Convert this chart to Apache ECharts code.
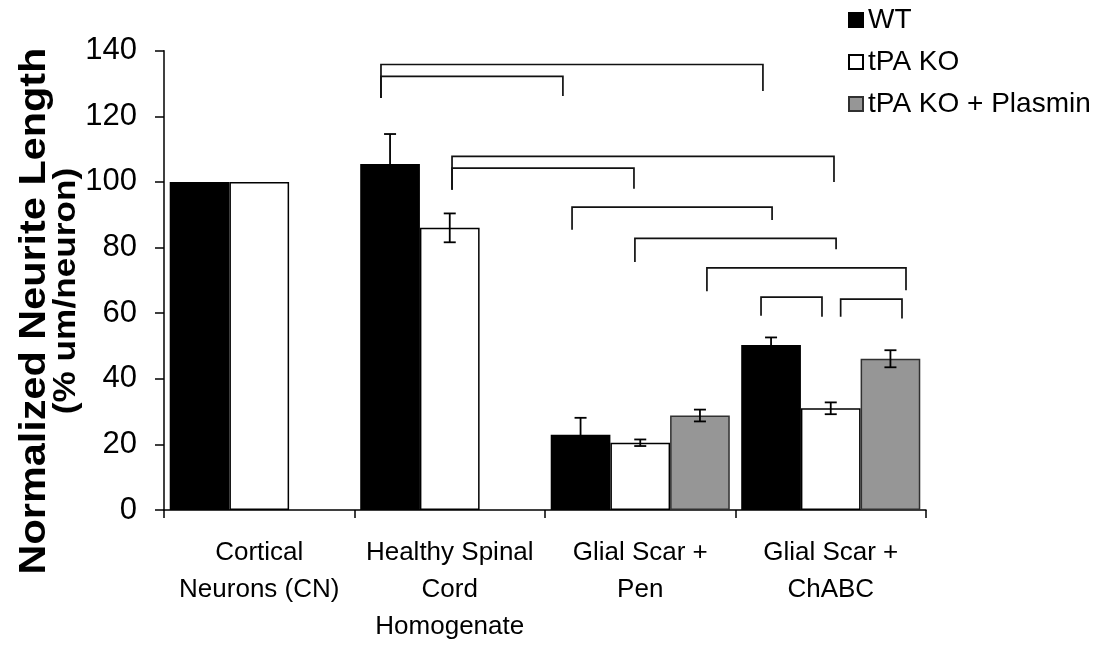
<!DOCTYPE html>
<html><head><meta charset="utf-8">
<script src="https://cdn.jsdelivr.net/npm/echarts/dist/echarts.min.js"></script>
<style>html,body{margin:0;padding:0;background:#fff}#c{width:1104px;height:645px}</style>
</head><body><div id="c"></div>
<script>
// ---- data ----
const categories = ['Cortical\nNeurons (CN)', 'Healthy Spinal\nCord\nHomogenate', 'Glial Scar +\nPen', 'Glial Scar +\nChABC'];
const seriesNames = ['WT', 'tPA KO', 'tPA KO + Plasmin'];
const wtValues = [100, 105.5, 22.9, 50.3];
const wtErrors = [null, 9.1, 5.2, 2.3];
const koValues = [100, 86.0, 20.5, 31.0];
const koErrors = [null, 4.4, 1.0, 1.8];
const plasminValues = [null, null, 28.8, 46.1];
const plasminErrors = [null, null, 1.8, 2.6];
const yMin = 0, yMax = 140, yStep = 20;
const yTitle1 = 'Normalized Neurite Length';
const yTitle2 = '(% um/neuron)';
// significance brackets: [xLeft, xRight, yTop, yLeftEnd, yRightEnd] (x in category units, y in data units)
const brackets = [
  [1.139, 3.144, 135.8, 125.6, 127.7],
  [1.139, 2.094, 132.2, 125.6, 126.2],
  [1.512, 3.517, 107.8, 97.6, 100.0],
  [1.512, 2.467, 104.2, 97.6, 97.9],
  [2.142, 3.192, 92.3, 85.4, 88.4],
  [2.472, 3.528, 82.8, 75.6, 79.5],
  [2.850, 3.895, 73.8, 66.7, 67.0],
  [3.134, 3.454, 64.9, 59.2, 58.9],
  [3.552, 3.874, 64.3, 58.9, 58.4]
];

// ---- chart ----
const FONT = '"Liberation Sans", Arial, sans-serif';
const GAP = 0.06;
const colors = ['#000000', '#ffffff', '#969696'];
const borders = ['#000000', '#000000', '#303030'];
const valuesList = [wtValues, koValues, plasminValues];
const errorsList = [wtErrors, koErrors, plasminErrors];

const chart = echarts.init(document.getElementById('c'));

const barSeries = seriesNames.map((name, i) => ({
  name, type: 'bar', xAxisIndex: 0, yAxisIndex: 0,
  data: valuesList[i],
  barGap: '0%', barCategoryGap: (GAP * 100) + '%',
  itemStyle: { color: colors[i], borderColor: borders[i], borderWidth: 1.5 },
  emphasis: { disabled: true },
  z: 2
}));

const errSeries = seriesNames.map((name, i) => ({
  type: 'custom', xAxisIndex: 0, yAxisIndex: 0, z: 5, silent: true,
  data: errorsList[i].map((e, c) => e == null ? null : [c, valuesList[i][c], e]).filter(d => d),
  renderItem(params, api) {
    const c = api.value(0), v = api.value(1), e = api.value(2);
    const band = api.size([1, 0])[0];
    const bw = band * (1 - GAP) / 3;
    const x = api.coord([c, v])[0] + (i - 1) * bw;
    const yt = api.coord([c, v + e])[1];
    const yb = api.coord([c, v - e])[1];
    const cap = 6;
    const st = { stroke: '#000', lineWidth: 1.8 };
    return { type: 'group', children: [
      { type: 'line', shape: { x1: x, y1: yt, x2: x, y2: yb }, style: st },
      { type: 'line', shape: { x1: x - cap, y1: yt, x2: x + cap, y2: yt }, style: st },
      { type: 'line', shape: { x1: x - cap, y1: yb, x2: x + cap, y2: yb }, style: st }
    ]};
  }
}));

const bracketSeries = {
  type: 'custom', xAxisIndex: 1, yAxisIndex: 0, z: 4, silent: true, clip: false,
  data: brackets,
  encode: { x: 0, y: 2 },
  renderItem(params, api) {
    const xl = api.value(0), xr = api.value(1), yt = api.value(2), yl = api.value(3), yr = api.value(4);
    const pts = [api.coord([xl, yl]), api.coord([xl, yt]), api.coord([xr, yt]), api.coord([xr, yr])];
    return { type: 'polyline', shape: { points: pts }, style: { stroke: '#111', lineWidth: 1.7, fill: null } };
  }
};

chart.setOption({
  animation: false,
  backgroundColor: '#fff',
  textStyle: { fontFamily: FONT },
  grid: { left: 164, right: 178, top: 50.7, bottom: 124, containLabel: false },
  legend: {
    orient: 'vertical', left: 843, top: 0,
    data: seriesNames, icon: 'rect', itemWidth: 14, itemHeight: 14, itemGap: 12,
    textStyle: { fontSize: 28, lineHeight: 30, color: '#000', fontFamily: FONT },
    selectedMode: false
  },
  xAxis: [{
    type: 'category', data: categories, gridIndex: 0,
    axisLine: { lineStyle: { color: '#000', width: 1.5 } },
    axisTick: { show: true, length: 8, lineStyle: { color: '#000', width: 1.5 } },
    axisLabel: { fontSize: 26, lineHeight: 37, color: '#000', margin: 24, interval: 0, fontFamily: FONT }
  }, {
    type: 'value', min: 0, max: 4, gridIndex: 0, show: false
  }],
  yAxis: [{
    type: 'value', min: yMin, max: yMax, interval: yStep,
    axisLine: { show: true, lineStyle: { color: '#000', width: 1.5 } },
    axisTick: { show: true, length: 9, lineStyle: { color: '#000', width: 1.5 } },
    axisLabel: { fontSize: 31, color: '#000', margin: 27, fontFamily: FONT },
    splitLine: { show: false }
  }],
  graphic: [
    { type: 'text', x: 35, y: 311, rotation: Math.PI / 2, scaleX: 1.15,
      style: { text: yTitle1, font: 'bold 36px ' + FONT, align: 'center', verticalAlign: 'middle', fill: '#000' } },
    { type: 'text', x: 66, y: 291, rotation: Math.PI / 2, scaleX: 1.1,
      style: { text: yTitle2, font: 'bold 32px ' + FONT, align: 'center', verticalAlign: 'middle', fill: '#000' } }
  ],
  series: [...barSeries, ...errSeries, bracketSeries]
});
</script></body></html>
